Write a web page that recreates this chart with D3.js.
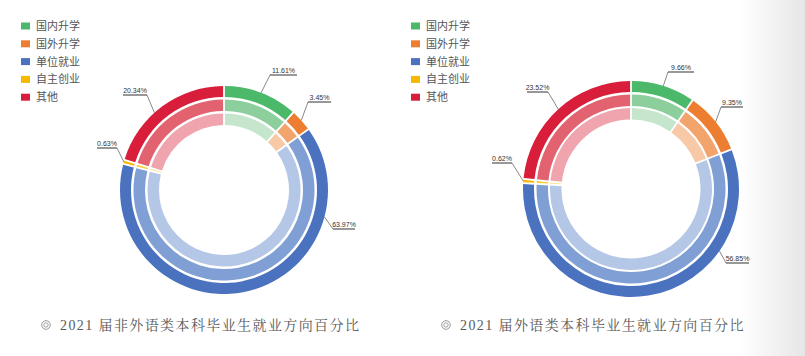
<!DOCTYPE html>
<html><head><meta charset="utf-8">
<script src="https://cdn.jsdelivr.net/npm/d3@7"></script>
<style>
html,body{margin:0;padding:0;background:#fff;}
svg{display:block;}
</style></head>
<body>
<svg id="chart" width="805" height="356"></svg>
<script>
// ---- data ----
const categories = ["国内升学", "国外升学", "单位就业", "自主创业", "其他"];
const nonForeignValues = [11.61, 3.45, 63.97, 0.63, 20.34];
const foreignValues = [9.66, 9.35, 56.85, 0.62, 23.52];
const titles = ["2021 届非外语类本科毕业生就业方向百分比", "2021 届外语类本科毕业生就业方向百分比"];

// ---- styles / layout ----
const ringColors = [
  ["#4cb86a", "#ed7d31", "#4a72bf", "#f6b900", "#d81e3a"], // outer
  ["#8dcf9c", "#f3a46d", "#809fd4", "#fbcf3a", "#e2636f"], // middle
  ["#c5e5cc", "#f8c9a7", "#b5c7e6", "#fde59a", "#efa4ae"]  // inner
];
const charts = [
  { values: nonForeignValues, cx: 224, cy: 190, rings: [[93,104],[79,90.5],[65,76.5]],
    legendX: 21, titleX: 42,
    anchorDeg: [null, null, 105, null, 318],
    label: [[46,-115,27,"left"],[84,-88,23,"left"],[109,39,22,"left"],[-127,-42,20,"right"],[-101,-95,24,"right"]] },
  { values: foreignValues, cx: 631, cy: 189, rings: [[97,108],[83,94.5],[69.5,81]],
    legendX: 411, titleX: 442,
    anchorDeg: [null, null, 125, null, null],
    label: [[37,-117,26,"left"],[90,-82,22,"left"],[95,74,23,"left"],[-139,-26,20,"right"],[-104,-97,21,"right"]] }
];

const svg = d3.select("#chart");
const defs = svg.append("defs");
const grad = defs.append("linearGradient").attr("id","bg").attr("x1","0").attr("x2","1").attr("y1","0").attr("y2","0");
grad.append("stop").attr("offset","0").attr("stop-color","#ffffff");
grad.append("stop").attr("offset","1").attr("stop-color","#e6e6e6");
svg.append("rect").attr("x",740).attr("y",0).attr("width",65).attr("height",356).attr("fill","url(#bg)");

charts.forEach((c, ci) => {
  const g = svg.append("g").attr("transform", `translate(${c.cx},${c.cy})`);
  const pie = d3.pie().sort(null).value(d => d);
  const arcsData = pie(c.values);
  c.rings.forEach((r, ri) => {
    const arc = d3.arc().innerRadius(r[0]).outerRadius(r[1]).padRadius(100).padAngle(0.018);
    g.selectAll(null).data(arcsData).enter().append("path")
      .attr("d", arc).attr("fill", (d, i) => ringColors[ri][i]);
  });
  // labels with leader lines
  const R = c.rings[0][1];
  arcsData.forEach((d, i) => {
    const ang = c.anchorDeg[i] != null ? c.anchorDeg[i] * Math.PI / 180 : (d.startAngle + d.endAngle) / 2;
    const ax = R * Math.sin(ang), ay = -R * Math.cos(ang);
    const [lx, ly, lw, side] = c.label[i];
    const jx = side === "left" ? lx : lx + lw;
    g.append("line").attr("x1", ax).attr("y1", ay).attr("x2", jx).attr("y2", ly)
      .attr("stroke", "#555").attr("stroke-width", 0.7);
    g.append("line").attr("x1", lx).attr("y1", ly).attr("x2", lx + lw).attr("y2", ly)
      .attr("stroke", "#444").attr("stroke-width", 1.1);
    g.append("text").attr("x", lx + lw / 2).attr("y", ly - 2)
      .attr("text-anchor", "middle")
      .attr("font-family", "Liberation Sans, Arial, sans-serif").attr("font-size", "7px")
      .attr("fill", "#333").text(d.data.toFixed(2) + "%");
  });
  // legend
  const lg = svg.append("g").attr("transform", `translate(${c.legendX},26)`);
  categories.forEach((cat, i) => {
    lg.append("rect").attr("x", 0).attr("y", i * 17.8 - 3.5).attr("width", 9).attr("height", 7)
      .attr("fill", ringColors[0][i]);
    lg.append("text").attr("x", 15).attr("y", i * 17.8 + 4)
      .attr("font-family", "Noto Sans CJK SC, sans-serif").attr("font-size", "11px")
      .attr("fill", "#555").text(cat);
  });
  // title
  const t = svg.append("g");
  t.append("circle").attr("cx", c.titleX + 4).attr("cy", 325).attr("r", 4.3).attr("fill", "none")
    .attr("stroke", "#999").attr("stroke-width", 1);
  t.append("circle").attr("cx", c.titleX + 4).attr("cy", 325).attr("r", 2.2).attr("fill", "none")
    .attr("stroke", "#999").attr("stroke-width", 0.9);
  t.append("text").attr("x", c.titleX + 18).attr("y", 330)
    .attr("font-family", "Liberation Serif, Noto Serif CJK SC, Noto Sans CJK SC, serif").attr("font-size", "14px")
    .attr("letter-spacing", "1.4px").attr("fill", "#5a5a5a").text(titles[ci]);
});
</script>
</body></html>
